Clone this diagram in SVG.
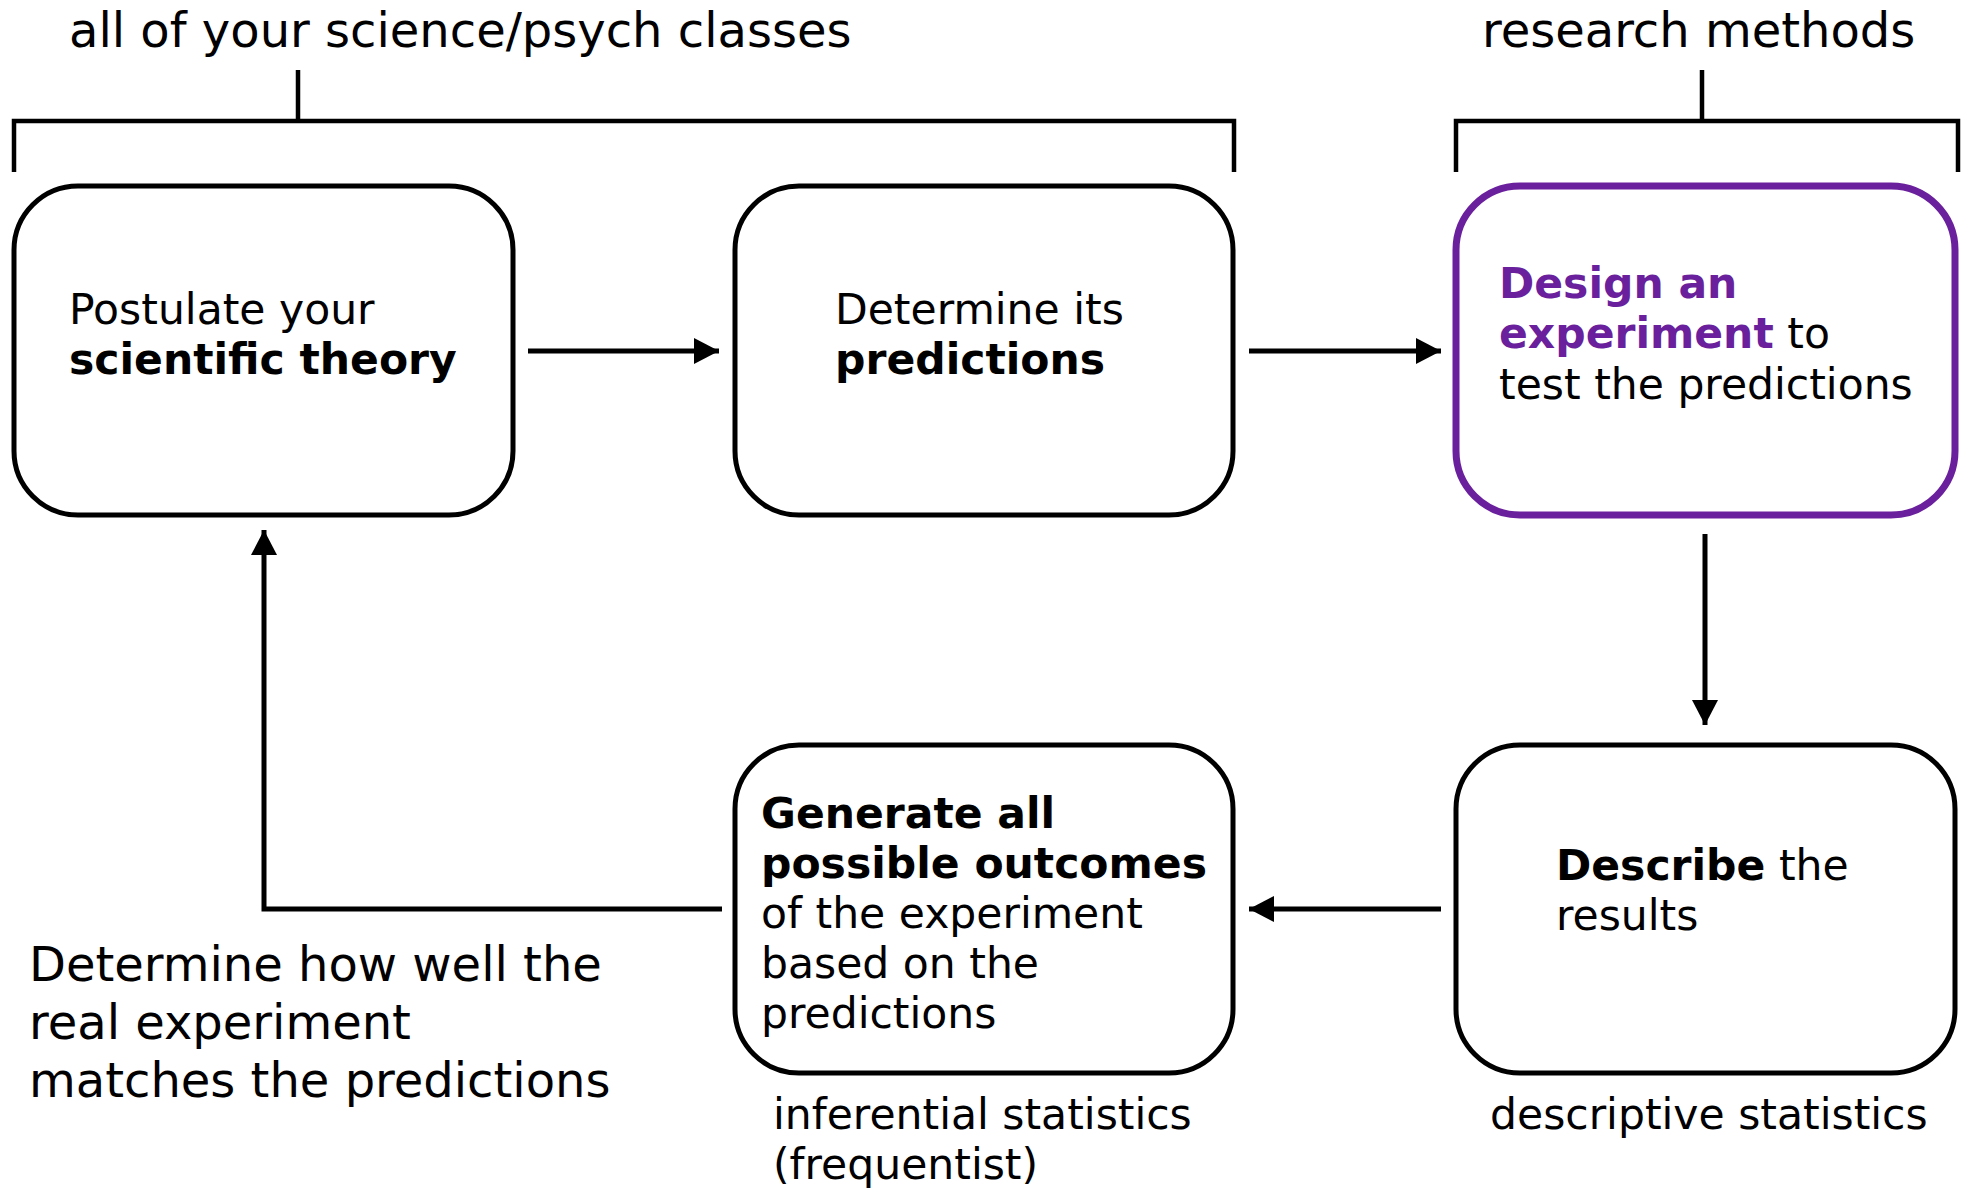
<svg xmlns="http://www.w3.org/2000/svg" width="1966" height="1189" viewBox="0 0 1966 1189">
<style>
text{font-family:"DejaVu Sans","Verdana",sans-serif;fill:#000}
.lbl{font-size:48px}
.box{font-size:42.5px}
.b{font-weight:bold}
.pt{fill:#6A1F9C}
.node{fill:#fff;stroke:#000;stroke-width:5}
.hl{stroke:#6A1F9C;stroke-width:7}
.ln{fill:none;stroke:#000;stroke-width:5}
.br{fill:none;stroke:#000;stroke-width:4.5}
</style>
<defs>
<marker id="ah" markerUnits="userSpaceOnUse" markerWidth="27" markerHeight="27" refX="25" refY="13" orient="auto">
<path d="M0,0 L25,13 L0,26 z" fill="#000"/>
</marker>
</defs>
<g id="brackets">
<text class="lbl" x="69" y="47">all of your science/psych classes</text>
<path class="br" d="M298,70 V121 M14,172 V121 H1234 V172"/>
<text class="lbl" x="1482" y="47">research methods</text>
<path class="br" d="M1702,70 V121 M1456,172 V121 H1958 V172"/>
</g>
<g id="connectors">
<line class="ln" x1="528" y1="351" x2="719" y2="351" marker-end="url(#ah)"/>
<line class="ln" x1="1249" y1="351" x2="1441" y2="351" marker-end="url(#ah)"/>
<line class="ln" x1="1705" y1="534" x2="1705" y2="725" marker-end="url(#ah)"/>
<line class="ln" x1="1441" y1="909" x2="1249" y2="909" marker-end="url(#ah)"/>
<polyline class="ln" points="722,909 264,909 264,530" marker-end="url(#ah)"/>
</g>
<g id="n1">
<rect class="node" x="14" y="186" width="499" height="329" rx="64" ry="64"/>
<text class="box" x="69" y="324">Postulate your</text>
<text class="box b" x="69" y="374">scientific theory</text>
</g>
<g id="n2">
<rect class="node" x="735" y="186" width="498" height="329" rx="64" ry="64"/>
<text class="box" x="835" y="324">Determine its</text>
<text class="box b" x="835" y="374">predictions</text>
</g>
<g id="n3">
<rect class="node hl" x="1456" y="186" width="499" height="329" rx="64" ry="64"/>
<text class="box b pt" x="1499" y="298">Design an</text>
<text class="box" x="1499" y="348"><tspan class="b pt">experiment</tspan> to</text>
<text class="box" x="1499" y="399">test the predictions</text>
</g>
<g id="n4">
<rect class="node" x="735" y="745" width="498" height="328" rx="64" ry="64"/>
<text class="box b" x="761" y="828">Generate all</text>
<text class="box b" x="761" y="878">possible outcomes</text>
<text class="box" x="761" y="928">of the experiment</text>
<text class="box" x="761" y="978">based on the</text>
<text class="box" x="761" y="1028">predictions</text>
</g>
<g id="n5">
<rect class="node" x="1456" y="745" width="499" height="328" rx="64" ry="64"/>
<text class="box" x="1556" y="880"><tspan class="b">Describe</tspan> the</text>
<text class="box" x="1556" y="930">results</text>
</g>
<g id="labels">
<text class="lbl" x="29" y="981">Determine how well the</text>
<text class="lbl" x="29" y="1039">real experiment</text>
<text class="lbl" x="29" y="1097">matches the predictions</text>
<text class="box" x="773" y="1129">inferential statistics</text>
<text class="box" x="773" y="1179">(frequentist)</text>
<text class="box" x="1490" y="1129">descriptive statistics</text>
</g>
</svg>
